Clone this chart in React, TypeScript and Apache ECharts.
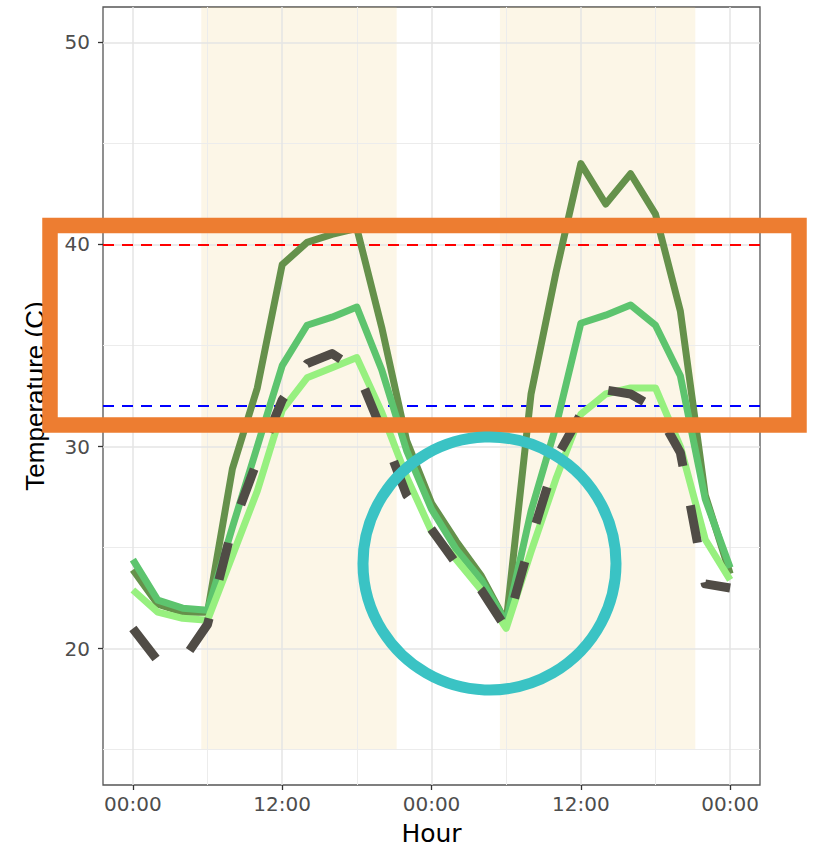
import React, { useEffect, useRef } from "react";
import * as echarts from "echarts";

// ---- data ----
const hours = [0, 2, 4, 6, 8, 10, 12, 14, 16, 18, 20, 22, 24, 26, 28, 30, 32, 34, 36, 38, 40, 42, 44, 46, 48];
const tempDarkGreen = [23.9, 22.2, 21.8, 21.8, 28.9, 32.9, 39.0, 40.1, 40.5, 40.8, 35.9, 30.3, 27.2, 25.3, 23.6, 21.3, 32.6, 38.6, 44.0, 42.0, 43.5, 41.5, 36.7, 27.6, 23.7];
const tempMidGreen = [24.4, 22.4, 22.0, 21.9, 26.0, 30.0, 34.0, 36.0, 36.4, 36.9, 33.8, 29.8, 26.9, 24.9, 23.4, 21.3, 26.8, 31.0, 36.1, 36.5, 37.0, 36.0, 33.5, 27.4, 24.0];
const tempLightGreen = [22.9, 21.8, 21.5, 21.4, 24.6, 27.8, 31.8, 33.4, 33.9, 34.4, 31.7, 28.5, 25.8, 24.4, 22.9, 21.0, 24.8, 28.4, 31.6, 32.6, 32.9, 32.9, 30.0, 25.4, 23.4];
const tempDashed = [21.0, 19.4, 19.4, 21.2, 26.0, 29.3, 32.3, 34.1, 34.6, 33.8, 30.8, 27.6, 25.9, 24.2, 22.9, 21.0, 25.4, 29.4, 31.6, 32.8, 32.6, 31.9, 29.7, 23.2, 23.0];

const xTickValues = [0, 12, 24, 36, 48];
const xTickLabels = ["00:00", "12:00", "00:00", "12:00", "00:00"];
const xMinorValues = [6, 18, 30, 42];
const yTickValues = [20, 30, 40, 50];
const yTickLabels = ["20", "30", "40", "50"];
const yMinorValues = [15, 25, 35, 45];
const daytimeStart = [5.5, 29.5];
const daytimeEnd = [21.2, 45.2];
const daytimeBottom = 15;
const thresholdHigh = 40;
const thresholdLow = 32;

const X_MIN = -2.4;
const X_MAX = 50.4;
const Y_MIN = 13.25;
const Y_MAX = 51.75;

export default function App() {
  const ref = useRef<HTMLDivElement>(null);

  useEffect(() => {
    if (!ref.current) return;
    const chart = echarts.init(ref.current, null, { renderer: "svg" });

    const toPairs = (vals: number[]) => hours.map((h, i) => [h, vals[i]]);
    const lineSeries = (name: string, vals: number[], color: string, width: number, type: any = "solid") => ({
      name,
      type: "line",
      data: toPairs(vals),
      showSymbol: false,
      symbol: "none",
      silent: true,
      z: 5,
      lineStyle: { color, width, type, cap: "butt", join: "round" },
    });

    const option: any = {
      animation: false,
      backgroundColor: "#ffffff",
      grid: {
        left: 103,
        top: 7,
        width: 657,
        height: 778,
        show: true,
        borderColor: "#555555",
        borderWidth: 1.3,
        backgroundColor: "transparent",
        containLabel: false,
        outerBoundsMode: "none",
      },
      xAxis: {
        type: "value",
        min: X_MIN,
        max: X_MAX,
        axisLine: { show: false, onZero: false },
        axisTick: { show: true, customValues: xTickValues, length: 5, lineStyle: { color: "#333333", width: 1.3 } },
        axisLabel: {
          customValues: xTickValues,
          formatter: (v: number) => xTickLabels[xTickValues.indexOf(v)] ?? "",
          color: "#4d4d4d",
          fontSize: 20,
          fontFamily: "DejaVu Sans",
          margin: 9,
        },
        splitLine: { show: false },
        name: "Hour",
        nameLocation: "middle",
        nameGap: 36,
        nameTextStyle: { fontSize: 25, color: "#000000", fontFamily: "DejaVu Sans" },
      },
      yAxis: {
        type: "value",
        min: Y_MIN,
        max: Y_MAX,
        axisLine: { show: false, onZero: false },
        axisTick: { show: true, customValues: yTickValues, length: 5, lineStyle: { color: "#333333", width: 1.3 } },
        axisLabel: {
          customValues: yTickValues,
          formatter: (v: number) => yTickLabels[yTickValues.indexOf(v)] ?? "",
          color: "#4d4d4d",
          fontSize: 20,
          fontFamily: "DejaVu Sans",
          margin: 13,
        },
        splitLine: { show: false },
        name: "Temperature (C)",
        nameLocation: "middle",
        nameGap: 55,
        nameTextStyle: { fontSize: 26, color: "#000000", fontFamily: "Liberation Sans" },
      },
      series: [
        {
          name: "gridMinor",
          type: "line",
          data: [],
          silent: true,
          z: 1,
          markLine: {
            silent: true,
            symbol: ["none", "none"],
            label: { show: false },
            lineStyle: { color: "#ececec", width: 1, type: "solid" },
            data: [...xMinorValues.map((v) => ({ xAxis: v })), ...yMinorValues.map((v) => ({ yAxis: v }))],
          },
        },
        {
          name: "gridMajor",
          type: "line",
          data: [],
          silent: true,
          z: 1,
          markLine: {
            silent: true,
            symbol: ["none", "none"],
            label: { show: false },
            lineStyle: { color: "#e4e4e4", width: 1.5, type: "solid" },
            data: [...xTickValues.map((v) => ({ xAxis: v })), ...yTickValues.map((v) => ({ yAxis: v }))],
          },
        },
        {
          name: "daytime",
          type: "line",
          data: [],
          silent: true,
          z: 2,
          markArea: {
            silent: true,
            itemStyle: { color: "rgba(240, 205, 120, 0.18)" },
            data: daytimeStart.map((s, i) => [
              { xAxis: s, yAxis: daytimeBottom },
              { xAxis: daytimeEnd[i], yAxis: Y_MAX },
            ]),
          },
        },
        lineSeries("Dark green", tempDarkGreen, "#65914b", 7),
        lineSeries("Mid green", tempMidGreen, "#5dc46e", 7),
        lineSeries("Light green", tempLightGreen, "#97f07f", 7),
        lineSeries("Dashed", tempDashed, "#504c46", 9, [38, 40]),
        {
          name: "thresholds",
          type: "line",
          data: [],
          silent: true,
          z: 8,
          markLine: {
            silent: true,
            symbol: ["none", "none"],
            label: { show: false },
            data: [
              { yAxis: thresholdHigh, lineStyle: { color: "#ff0000", width: 1.8, type: [11, 8] } },
              { yAxis: thresholdLow, lineStyle: { color: "#0000ff", width: 1.8, type: [11, 8] } },
            ],
          },
        },
      ],
      graphic: [
        {
          type: "rect",
          z: 100,
          silent: true,
          shape: { x: 50, y: 225.5, width: 749, height: 199.5 },
          style: { fill: "none", stroke: "#ed7d31", lineWidth: 15.5 },
        },
        {
          type: "circle",
          z: 100,
          silent: true,
          shape: { cx: 489.5, cy: 563.5, r: 126.5 },
          style: { fill: "none", stroke: "#3ac3c4", lineWidth: 11 },
        },
      ],
    };

    chart.setOption(option);
    return () => chart.dispose();
  }, []);

  return <div ref={ref} style={{ position: "fixed", left: 0, top: 0, width: 818, height: 851 }} />;
}
